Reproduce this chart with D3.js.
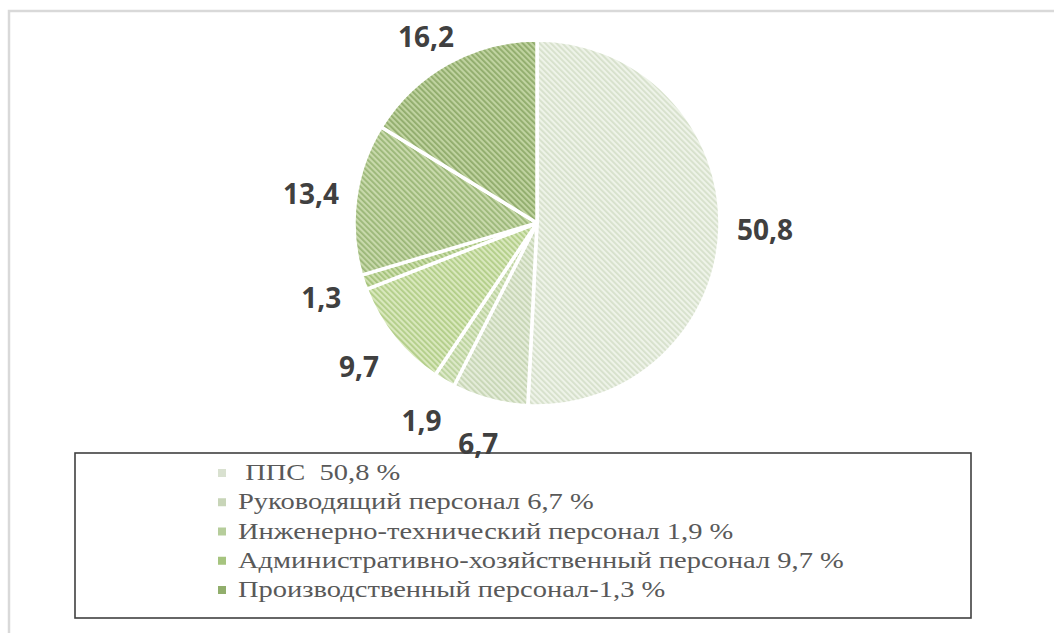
<!DOCTYPE html>
<html><head><meta charset="utf-8">
<script src="https://cdn.jsdelivr.net/npm/d3@7"></script>
<style>html,body{margin:0;padding:0;background:#fff;}svg{display:block;}</style>
</head><body>
<svg id="chart" width="1054" height="633"></svg>
<script>
// ---- data ----
const sliceNames = ["ППС", "Руководящий персонал", "Инженерно-технический персонал",
  "Административно-хозяйственный персонал", "Производственный персонал", "Прочие 1", "Прочие 2"];
const sliceValues = [50.8, 6.7, 1.9, 9.7, 1.3, 13.4, 16.2];
const sliceLabels = ["50,8", "6,7", "1,9", "9,7", "1,3", "13,4", "16,2"];
const legendLabels = [" ППС  50,8 %", "Руководящий персонал 6,7 %", "Инженерно-технический персонал 1,9 %",
  "Административно-хозяйственный персонал 9,7 %", "Производственный персонал-1,3 %"];
// ---- styles ----
const bgColors = ["#eef3e8", "#e4ecd9", "#dde9c9", "#d9e8bd", "#cfe0b0", "#c8d9ab", "#c0d3a0"];
const fgColors = ["#d6e0cb", "#c6d5b4", "#bad29c", "#b1cd87", "#a3c179", "#9ab677", "#8fab6b"];
const legendColors = ["#d9e1d0", "#c8d5b8", "#b6cd9b", "#a6c47f", "#91ae6c"];

const svg = d3.select("#chart");
const W = 1054, H = 633;
const cx = 537, cy = 223, r = 183;

// outer frame
svg.append("rect").attr("x", 9).attr("y", 11).attr("width", W + 20).attr("height", H + 20)
  .attr("fill", "#fff").attr("stroke", "#d9d9d9").attr("stroke-width", 2.5);

// patterns
const defs = svg.append("defs");
sliceValues.forEach((v, i) => {
  const p = defs.append("pattern").attr("id", "hatch" + i).attr("patternUnits", "userSpaceOnUse")
    .attr("width", 4).attr("height", 4).attr("patternTransform", "rotate(-45)");
  p.append("rect").attr("width", 4).attr("height", 4).attr("fill", bgColors[i]);
  p.append("rect").attr("x", 0).attr("y", 0).attr("width", 1.8).attr("height", 4).attr("fill", fgColors[i]);
});

const pie = d3.pie().sort(null).value(d => d)(sliceValues);
const arc = d3.arc().innerRadius(0).outerRadius(r);
const g = svg.append("g").attr("transform", `translate(${cx},${cy})`);
g.selectAll("path.slice").data(pie).enter().append("path").attr("class", "slice")
  .attr("d", arc).attr("fill", (d, i) => `url(#hatch${i})`)
  .attr("stroke", "#fff").attr("stroke-width", 3.5).attr("stroke-linejoin", "round");

// data labels (outside end)
const labelArc = d3.arc().innerRadius(r + 45).outerRadius(r + 45);
g.selectAll("text.lbl").data(pie).enter().append("text").attr("class", "lbl")
  .attr("transform", d => {
    const [x, y] = labelArc.centroid(d);
    return `translate(${x},${Math.max(y, 36 - cy)})`;
  })
  .attr("text-anchor", "middle").attr("dominant-baseline", "central")
  .attr("font-family", "'Open Sans', sans-serif").attr("font-weight", "bold")
  .attr("font-size", 28).attr("fill", "#404040")
  .text((d, i) => sliceLabels[i]);

// legend
const lx = 75, ly = 453, lw = 896, lh = 165;
svg.append("rect").attr("x", lx).attr("y", ly).attr("width", lw).attr("height", lh)
  .attr("fill", "none").attr("stroke", "#404040").attr("stroke-width", 1.6);
const rowY = d3.scalePoint().domain(d3.range(legendLabels.length)).range([480, 597]);
const lg = svg.append("g");
legendLabels.forEach((t, i) => {
  lg.append("rect").attr("x", 218).attr("y", rowY(i) - 11).attr("width", 8).attr("height", 8)
    .attr("fill", legendColors[i]);
  lg.append("g").attr("transform", `translate(238,${rowY(i)}) scale(1.24,1)`)
    .append("text").attr("x", 0).attr("y", 0)
    .attr("font-family", "'Liberation Serif', 'Times New Roman', serif").attr("font-size", 23)
    .attr("fill", "#595959").attr("xml:space", "preserve").style("white-space", "pre").text(t);
});
</script>
</body></html>
